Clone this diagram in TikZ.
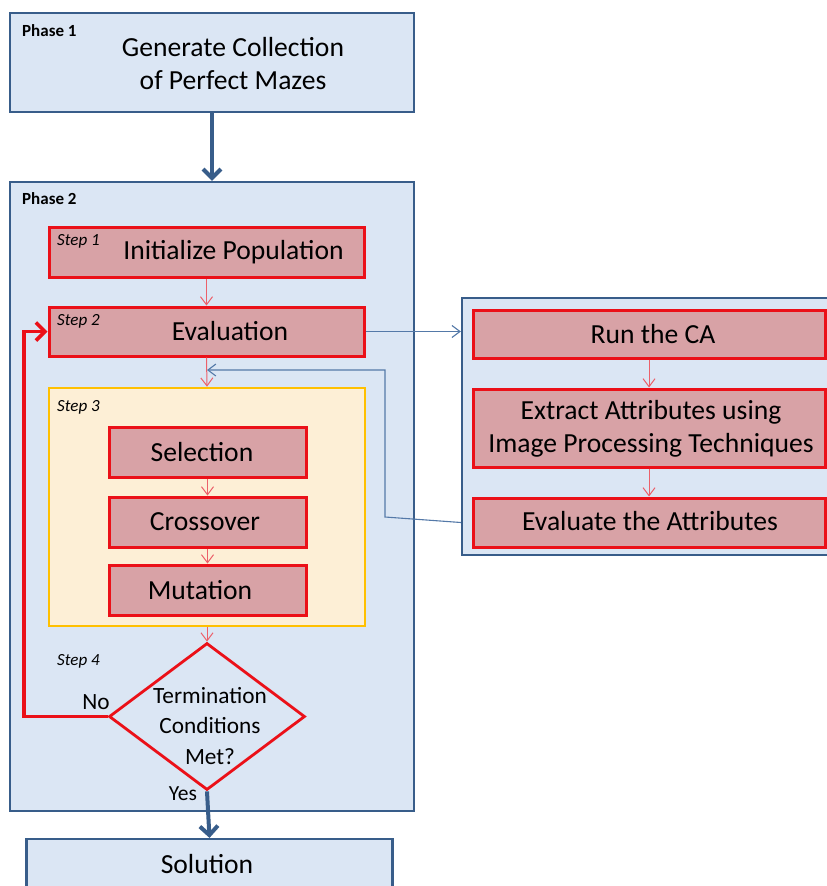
\documentclass[tikz,border=0pt]{standalone}
\usepackage{fontspec}
\setmainfont{Carlito}
\usetikzlibrary{shapes.geometric,arrows.meta}
\definecolor{paleblue}{RGB}{219,230,244}
\definecolor{frameblue}{RGB}{56,93,138}
\definecolor{boxred}{RGB}{235,16,24}
\definecolor{rosefill}{RGB}{216,162,166}
\definecolor{creamfill}{RGB}{253,239,214}
\definecolor{amber}{RGB}{255,192,0}
\definecolor{linkred}{RGB}{236,96,106}
\definecolor{linkblue}{RGB}{84,121,168}
\newcommand{\sizebig}{\fontsize{27.6}{33.5}\selectfont}
\newcommand{\sizemid}{\fontsize{23.3}{30.5}\selectfont}
\newcommand{\sizetag}{\fontsize{17}{20}\selectfont}
\begin{document}
\begin{tikzpicture}[x=1pt,y=-1pt,
  panel/.style={draw=frameblue,fill=paleblue,line width=2.2pt,inner sep=0},
  task/.style={draw=boxred,fill=rosefill,line width=3pt,inner sep=0},
  group/.style={draw=amber,fill=creamfill,line width=2.6pt,inner sep=0},
  caption/.style={inner sep=0,align=center,font=\sizebig},
  phasetag/.style={inner sep=0,anchor=west,font=\sizetag\bfseries},
  steptag/.style={inner sep=0,anchor=west,font=\sizetag\itshape},
  thinred/.style={draw=linkred,line width=1pt,-{Straight Barb[length=8pt,width=12pt]}},
  thinblue/.style={draw=linkblue,line width=1.1pt,-{Straight Barb[length=8pt,width=12pt]}},
  bigflow/.style={draw=frameblue,line width=4pt,-{Straight Barb[length=9pt,width=18pt]}},
  loopflow/.style={draw=boxred,line width=3.6pt,-{Straight Barb[length=9pt,width=18pt]}}
]
\useasboundingbox (0,0) rectangle (827,886);
\fill[white] (0,0) rectangle (827,886);
\clip (0,0) rectangle (827,886);

% Phase 1
\node[panel,minimum width=404pt,minimum height=99pt] (ph1) at (212,62.5) {};
\node[phasetag] (ph1t) at (22,31) {Phase 1};
\node[caption] (ph1c) at (233,63.5) {Generate Collection\\of Perfect Mazes};

% Phase 2
\node[panel,minimum width=404pt,minimum height=629pt] (ph2) at (212,496.5) {};
\node[phasetag] (ph2t) at (22,199) {Phase 2};

% Step 1 and Step 2
\node[task,minimum width=315pt,minimum height=50pt] (init) at (206.5,252.5) {};
\node[steptag] (s1) at (57,241) {Step 1};
\node[caption] (initc) at (233.5,252.5) {Initialize Population};

\node[task,minimum width=315pt,minimum height=49pt] (eval) at (206.5,331.5) {};
\node[steptag] (s2) at (57,321) {Step 2};
\node[caption] (evalc) at (230,331.5) {Evaluation};

% Step 3: genetic operators
\node[group,minimum width=316pt,minimum height=238pt] (ops) at (207,507) {};
\node[steptag] (s3) at (57,407) {Step 3};
\node[task,minimum width=197pt,minimum height=50pt] (sel) at (207.5,452) {};
\node[caption] (selc) at (202,452) {Selection};
\node[task,minimum width=197pt,minimum height=50pt] (cross) at (207.5,522) {};
\node[caption] (crossc) at (205,522) {Crossover};
\node[task,minimum width=197pt,minimum height=50pt] (mut) at (207.5,590) {};
\node[caption] (mutc) at (200,590) {Mutation};

% Step 4: termination test
\node[diamond,draw=boxred,line width=2.8pt,inner sep=0,minimum width=196pt,minimum height=147pt] (cond) at (207,716.5) {};
\node[steptag] (s4) at (57,661) {Step 4};
\node[inner sep=0,align=center,font=\sizemid] (condc) at (210,726) {Termination\\Conditions\\Met?};
\node[inner sep=0,font=\sizemid] (no) at (96,702) {No};
\node[inner sep=0,font=\fontsize{21.5}{24}\selectfont] (yes) at (183,794) {Yes};

% Solution
\node[panel,minimum width=366pt,minimum height=70pt] (sol) at (209.5,874) {};
\node[caption] (solc) at (207,864) {Solution};

% Fitness evaluation panel
\node[panel,minimum width=383pt,minimum height=257pt] (fit) at (653.5,426.5) {};
\node[task,minimum width=352pt,minimum height=48pt] (ca) at (649,334) {};
\node[caption] (cac) at (653,334) {Run the CA};
\node[task,minimum width=352pt,minimum height=78pt] (extr) at (649,428) {};
\node[caption] (extrc) at (651,429) {Extract Attributes using\\Image Processing Techniques};
\node[task,minimum width=352pt,minimum height=49pt] (attr) at (649,522.5) {};
\node[caption] (attrc) at (650,521) {Evaluate the Attributes};

% Connectors
\draw[bigflow] (ph1.south) -- (ph2.north);
\draw[bigflow] (cond.south) -- (sol.north);
\draw[thinred] (init.south) -- (eval.north);
\draw[thinred] (eval.south) -- (ops.north);
\draw[thinred] (sel.south) -- (cross.north);
\draw[thinred] (cross.south) -- (mut.north);
\draw[thinred] (ops.south) -- (cond.north);
\draw[thinred] (ca.south) -- (extr.north);
\draw[thinred] (extr.south) -- (attr.north);

\coordinate (loopx) at (24,0);
\draw[loopflow,line join=miter] (cond.west) -- (cond.west -| loopx) |- (eval.west);

\draw[thinblue] (eval.east) -- (eval.east -| fit.west);
\coordinate (fbturn) at (385,517);
\coordinate (fbend) at (207,370);
\draw[thinblue] (fit.west |- attr) -- (fbturn) |- (fbend);
\end{tikzpicture}
\end{document}
